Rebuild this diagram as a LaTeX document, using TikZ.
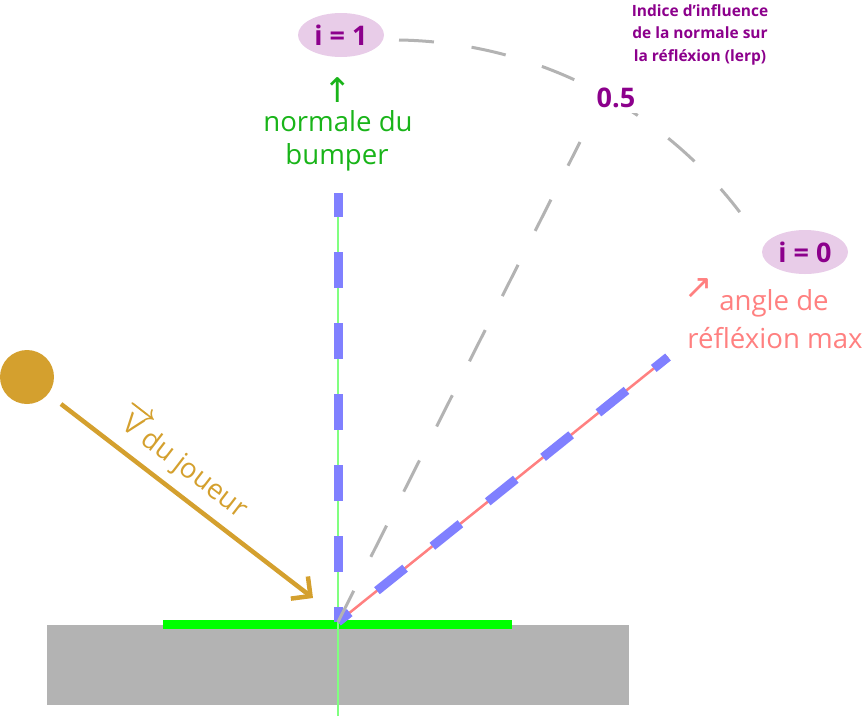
\RequirePackage{fix-cm}
\documentclass[tikz,border=0pt]{standalone}
\usepackage{amsmath}
\usepackage{fontspec}
\setmainfont{Open Sans}
\newfontfamily\symfont{DejaVu Sans}
\usetikzlibrary{arrows.meta,shapes.geometric}
\definecolor{floorgray}{RGB}{179,179,179}
\definecolor{bumpgreen}{RGB}{0,255,0}
\definecolor{normgreen}{RGB}{128,255,128}
\definecolor{txtgreen}{RGB}{25,180,25}
\definecolor{dblue}{RGB}{128,128,255}
\definecolor{salmon}{RGB}{255,128,128}
\definecolor{arcgray}{RGB}{179,179,179}
\definecolor{gold}{RGB}{212,160,46}
\definecolor{plum}{RGB}{140,0,140}
\definecolor{lilac}{RGB}{232,204,232}
\begin{document}
\begin{tikzpicture}[x=1pt,y=-1pt,
  big/.style={font=\fontsize{27.6}{33}\selectfont, inner sep=0pt, anchor=base},
  ibox/.style={ellipse, fill=lilac, text=plum, minimum width=86pt, minimum height=44pt, inner sep=0pt, font=\fontsize{27}{30}\selectfont\bfseries},
  small/.style={font=\fontsize{15.5}{18}\selectfont\bfseries, text=plum, inner sep=0pt, anchor=base},
  gdash/.style={draw=arcgray, line width=3pt, dash pattern=on 35pt off 38pt},
  bdash/.style={draw=dblue, line width=9pt, dash pattern=on 36pt off 35pt, dash phase=21pt},
  sym/.style={font=\symfont\fontsize{34}{34}\selectfont, inner sep=0pt}
]
\useasboundingbox (0,0) rectangle (864,716);
% floor and bumper
\fill[floorgray] (47,625) rectangle (629,705);
\coordinate (O) at (338,622);
\coordinate (Bl) at (163,624.5);
\coordinate (Br) at (512,624.5);
\draw[bumpgreen, line width=9pt] (Bl) -- (Br);
% normal
\coordinate (Nbot) at (338,716);
\coordinate (Ntop) at (338,193);
\draw[normgreen, line width=2.8pt] (Nbot) -- (Ntop);
% max reflection
\coordinate (Rtop) at (668,357);
\draw[salmon, line width=2.5pt] (O) -- (Rtop);
\draw[bdash] (O) -- (Ntop);
\draw[bdash] (O) -- (Rtop);
% lerp
\coordinate (Mtop) at (580,142);
\draw[gdash] (O) -- (Mtop);
\coordinate (As) at (399,40);
\draw[gdash] (As) arc[start angle=89.1, end angle=37.3, radius=437pt];
% labels
\node[big, txtgreen] (nd1) at (338,131) {normale du};
\node[big, txtgreen] (nd2) at (337,164) {bumper};
\node[sym, txtgreen] (nup) at (338,90) {↑};
\node[ibox] (i1) at (341,35) {i = 1};
\node[ibox] (i0) at (805,252) {i = 0};
\node[fill=white, inner sep=5pt, text=plum, font=\fontsize{27}{30}\selectfont\bfseries] (half) at (616,98) {0.5};
\node[small] (t1) at (700,16) {Indice d’influence};
\node[small] (t2) at (700,38.5) {de la normale sur};
\node[small] (t3) at (700,61) {la réfléxion (lerp)};
\node[big, salmon] (a1) at (774,310) {angle de};
\node[big, salmon] (a2) at (775,348) {réfléxion max};
\node[sym, salmon] (ane) at (699,289) {↗};
% player
\node[circle, fill=gold, minimum size=54pt, inner sep=0pt] (ball) at (27,377) {};
\coordinate (Vs) at (61,404);
\coordinate (Ve) at (313,598);
\draw[gold, line width=4.5pt, -{Straight Barb[length=14pt,width=28pt]}] (Vs) -- (Ve);
\node[big, gold, rotate=-37.6] (vl) at (177,471) {$\boldsymbol{\overrightarrow{\text{V}}}$du joueur};
\end{tikzpicture}
\end{document}
